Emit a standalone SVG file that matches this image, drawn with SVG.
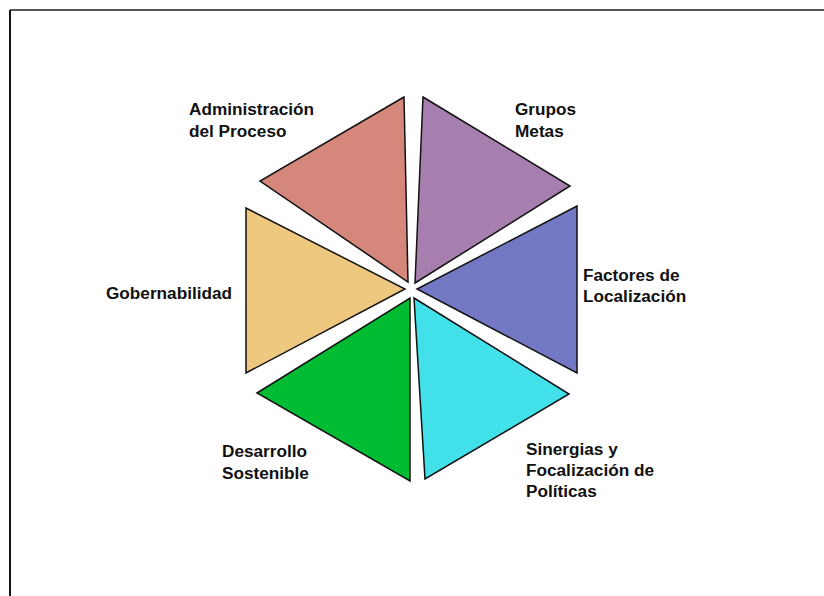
<svg xmlns="http://www.w3.org/2000/svg" width="824" height="596" viewBox="0 0 824 596">
<style>
  .tri { stroke: #111; stroke-width: 1.5; stroke-linejoin: miter; }
  .lbl { font-family: "Liberation Sans", Arial, sans-serif; font-weight: bold; font-size: 17.2px; fill: #111; }
</style>
<rect x="0" y="0" width="824" height="596" fill="#ffffff"/>
<g id="frame">
  <line x1="10" y1="10" x2="824" y2="10" stroke="#555" stroke-width="2"/>
  <line x1="10" y1="10" x2="10" y2="596" stroke="#111" stroke-width="2"/>
</g>
<g id="connectors"></g>
<g id="administracion">
  <polygon class="tri" points="404,97 260,181 408,282" fill="#D4877A"/>
  <text class="lbl" x="189" y="115">Administración</text>
  <text class="lbl" x="189" y="137">del Proceso</text>
</g>
<g id="grupos">
  <polygon class="tri" points="423,97 570,186 415,283" fill="#A77FAE"/>
  <text class="lbl" x="515" y="115">Grupos</text>
  <text class="lbl" x="515" y="137">Metas</text>
</g>
<g id="factores">
  <polygon class="tri" points="577,206 577,373 417,289" fill="#7278C4"/>
  <text class="lbl" x="583" y="281">Factores de</text>
  <text class="lbl" x="583" y="302">Localización</text>
</g>
<g id="gobernabilidad">
  <polygon class="tri" points="246,208 246,373 405,289" fill="#EFC880"/>
  <text class="lbl" x="106" y="299">Gobernabilidad</text>
</g>
<g id="desarrollo">
  <polygon class="tri" points="257,393 410,298 410,481" fill="#00BC33"/>
  <text class="lbl" x="222" y="457">Desarrollo</text>
  <text class="lbl" x="222" y="479">Sostenible</text>
</g>
<g id="sinergias">
  <polygon class="tri" points="414,298 569,394 425,479" fill="#42E0E8"/>
  <text class="lbl" x="526" y="455">Sinergias y</text>
  <text class="lbl" x="526" y="476">Focalización de</text>
  <text class="lbl" x="526" y="497">Políticas</text>
</g>
</svg>
